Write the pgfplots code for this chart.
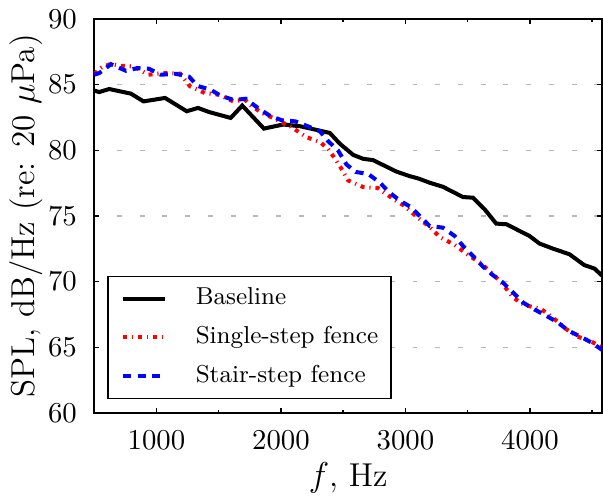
\documentclass[border=0pt]{standalone}
\usepackage{pgfplots}
\pgfplotsset{compat=1.18}
\pgfplotstableread{
f v
500 84.54
540 84.43
620 84.66
794 84.31
896 83.72
1069 83.98
1243 82.97
1334 83.22
1422 82.91
1596 82.46
1689 83.40
1863 81.65
2018 81.96
2152 81.83
2285 81.55
2392 81.32
2473 80.50
2580 79.65
2660 79.35
2740 79.25
2927 78.38
3034 78.03
3101 77.86
3195 77.53
3301 77.22
3462 76.44
3542 76.39
3636 75.51
3729 74.42
3810 74.37
3890 73.99
3996 73.48
4077 72.90
4183 72.52
4317 72.09
4437 71.26
4518 71.00
4580 70.45
}\baseline
\pgfplotstableread{
f v
500 85.80
560 86.30
634 86.58
708 86.43
815 86.38
935 85.75
1055 85.87
1190 85.83
1270 84.86
1390 84.35
1497 84.23
1617 83.72
1710 83.85
1764 83.35
1857 82.80
1964 82.34
2078 81.80
2205 81.00
2312 80.63
2379 80.10
2420 79.55
2473 78.80
2540 77.70
2660 77.20
2780 77.12
2887 76.39
2993 75.76
3100 74.87
3194 74.17
3274 73.41
3395 72.80
3488 72.14
3608 71.38
3702 70.58
3782 69.82
3863 68.80
3957 68.22
4090 67.92
4197 67.16
4290 66.40
4383 65.82
4477 65.52
4580 65.00
}\single
\pgfplotstableread{
f v
500 85.75
540 85.87
634 86.55
754 86.05
848 86.25
940 86.20
1035 85.75
1155 85.82
1262 85.60
1329 84.90
1436 84.60
1516 84.15
1623 83.82
1716 83.92
1810 83.25
1915 82.60
2008 82.28
2115 82.20
2235 81.75
2312 81.45
2379 80.69
2459 79.98
2526 78.92
2600 78.35
2700 78.20
2793 77.55
2870 76.80
2955 76.17
3048 75.65
3114 75.00
3194 74.24
3301 74.11
3395 73.48
3462 72.72
3542 71.96
3622 71.15
3702 70.50
3782 69.94
3863 69.18
3943 68.42
4037 67.88
4130 67.41
4224 66.90
4304 66.30
4397 65.86
4490 65.39
4580 64.81
}\stair
\begin{document}
\begin{tikzpicture}
\begin{axis}[
  scale only axis,
  width=176.5pt, height=137pt,
  xmin=500, xmax=4580, ymin=60, ymax=90,
  xtick={1000,2000,3000,4000},
  minor xtick={1500,2500,3500,4500},
  ytick={60,65,...,90},
  ymajorgrids,
  major grid style={black!28, dash pattern=on 1.7pt off 6.2pt, line width=0.5pt},
  axis line style={line width=0.6pt},
  tick style={black, line width=0.5pt},
  major tick length=1.8pt, minor tick length=1pt,
  tick label style={font=\fontsize{10}{12}\selectfont},
  /pgf/number format/1000 sep={},
  scaled x ticks=false,
  yticklabel style={xshift=-2.5pt},
  xticklabel style={yshift=-2.5pt},
  xlabel={$f$, Hz},
  ylabel={SPL, dB/Hz (re: 20 $\mu$Pa)},
  label style={font=\fontsize{11.5}{14}\selectfont},
  ylabel style={yshift=-5pt},
  xlabel style={yshift=2pt},
  legend cell align=left,
  legend image code/.code={\path (0pt,0pt); \draw[#1] (2pt,0pt) -- (16.5pt,0pt);},
  legend style={at={(0.026,0.035)}, anchor=south west,
    font=\fontsize{8.5}{10}\selectfont, draw=black, line width=0.6pt,
    inner xsep=2.5pt, inner ysep=2pt, row sep=2pt,
    /tikz/every odd column/.append style={column sep=8pt}},
]
\addplot[black, line width=1.4pt] table[x=f,y=v]{\baseline};
\addlegendentry{Baseline}
\addplot[red, line width=1.4pt, dash pattern=on 1.4pt off 1.7pt on 0.4pt off 1.7pt] table[x=f,y=v]{\single};
\addlegendentry{Single-step fence}
\addplot[blue, line width=1.4pt, dash pattern=on 2.8pt off 2.2pt] table[x=f,y=v]{\stair};
\addlegendentry{Stair-step fence}
\end{axis}
\end{tikzpicture}
\end{document}
